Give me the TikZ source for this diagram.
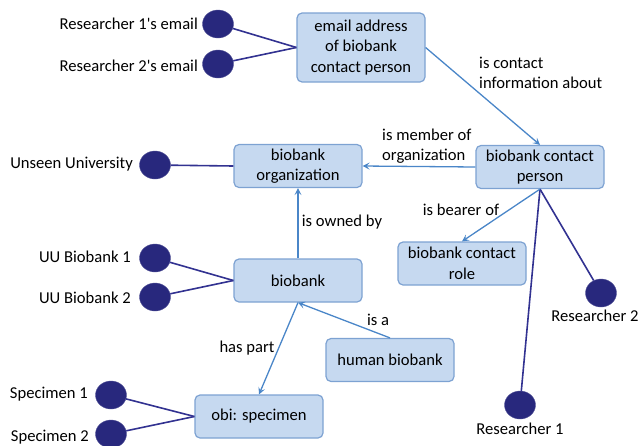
\documentclass[tikz,border=0pt]{standalone}
\usepackage{fontspec}
\setmainfont{Carlito}
\usetikzlibrary{shapes.geometric,arrows.meta}
\definecolor{boxfill}{RGB}{198,217,240}
\definecolor{boxdraw}{RGB}{125,162,210}
\definecolor{arrowc}{RGB}{74,134,200}
\definecolor{navy}{RGB}{40,40,125}
\definecolor{navyline}{RGB}{50,50,145}
\newcommand{\apo}{\textquotesingle}
\tikzset{
  txt/.style={font=\fontsize{16.6}{20.5}\selectfont},
  cls/.style={txt, draw=boxdraw, fill=boxfill, rounded corners=5pt, line width=1.2pt, minimum width=128pt, minimum height=43pt, align=center, inner sep=2pt},
  inst/.style={ellipse, fill=navy, draw=navy!80!white, minimum width=31pt, minimum height=28pt, inner sep=0pt},
  lbl/.style={txt, inner sep=0pt},
  rel/.style={draw=arrowc, line width=1.3pt, -{Stealth[length=7pt,width=7pt,inset=3pt]}},
  tie/.style={draw=navyline, line width=1.6pt},
}
\begin{document}
\begin{tikzpicture}[x=1pt,y=-1pt]
\useasboundingbox (0,0) rectangle (639,445);
% classes
\node[cls, minimum height=69pt] (email) at (361,47.5) {email address\\of biobank\\contact person};
\node[cls] (org) at (298,166) {biobank\\organization};
\node[cls] (cp) at (540,167) {biobank contact\\person};
\node[cls] (role) at (462,263.5) {biobank contact\\role};
\node[cls] (bb) at (298,280.5) {biobank};
\node[cls] (hb) at (390,360) {human biobank};
\node[cls] (spec) at (259,416.5) {obi: specimen};
% instances
\node[inst] (r1e) at (218,24) {};
\node[inst] (r2e) at (218,64) {};
\node[inst] (uu) at (155,165) {};
\node[inst] (ub1) at (155,258) {};
\node[inst] (ub2) at (155,297) {};
\node[inst] (s1) at (111,395) {};
\node[inst] (s2) at (111,434) {};
\node[inst] (r2) at (601,293) {};
\node[inst] (r1) at (520,405) {};
% instance labels
\node[lbl, anchor=east] (lr1e) at (198,24) {Researcher 1\apo s email};
\node[lbl, anchor=east] (lr2e) at (198,66) {Researcher 2\apo s email};
\node[lbl, anchor=east] (luu) at (133,164) {Unseen University};
\node[lbl, anchor=east] (lub1) at (131,257) {UU Biobank 1};
\node[lbl, anchor=east] (lub2) at (131,298) {UU Biobank 2};
\node[lbl, anchor=east] (ls1) at (88,394) {Specimen 1};
\node[lbl, anchor=east] (ls2) at (89,437) {Specimen 2};
\node[lbl] (lr2) at (595,316) {Researcher 2};
\node[lbl] (lr1) at (520,429) {Researcher 1};
% instance ties
\draw[tie] (r1e) -- (email.west);
\draw[tie] (r2e) -- (email.west);
\draw[tie] (uu) -- (org.west);
\draw[tie] (ub1) -- (bb.west);
\draw[tie] (ub2) -- (bb.west);
\draw[tie] (s1) -- (spec.west);
\draw[tie] (s2) -- (spec.west);
\draw[tie] (cp.south) -- (r2);
\draw[tie] (cp.south) -- (r1);
% relations
\draw[rel] (email.east) -- (cp.north);
\draw[rel] (cp.west) -- (org.east);
\draw[rel] (cp.south) -- (role.north);
\draw[rel] (bb.north) -- (org.south);
\draw[rel] (hb.north) -- (bb.south);
\draw[rel] (bb.south) -- (spec.north);
% relation labels
\node[lbl, anchor=west, align=left] (lcontact) at (479,73) {is contact\\information about};
\node[lbl, anchor=west, align=left] (lmember) at (382,146) {is member of\\organization};
\node[lbl] (lbearer) at (461,210) {is bearer of};
\node[lbl] (lowned) at (342,222) {is owned by};
\node[lbl] (lisa) at (378,320) {is a};
\node[lbl] (lpart) at (247,348) {has part};
\end{tikzpicture}
\end{document}
